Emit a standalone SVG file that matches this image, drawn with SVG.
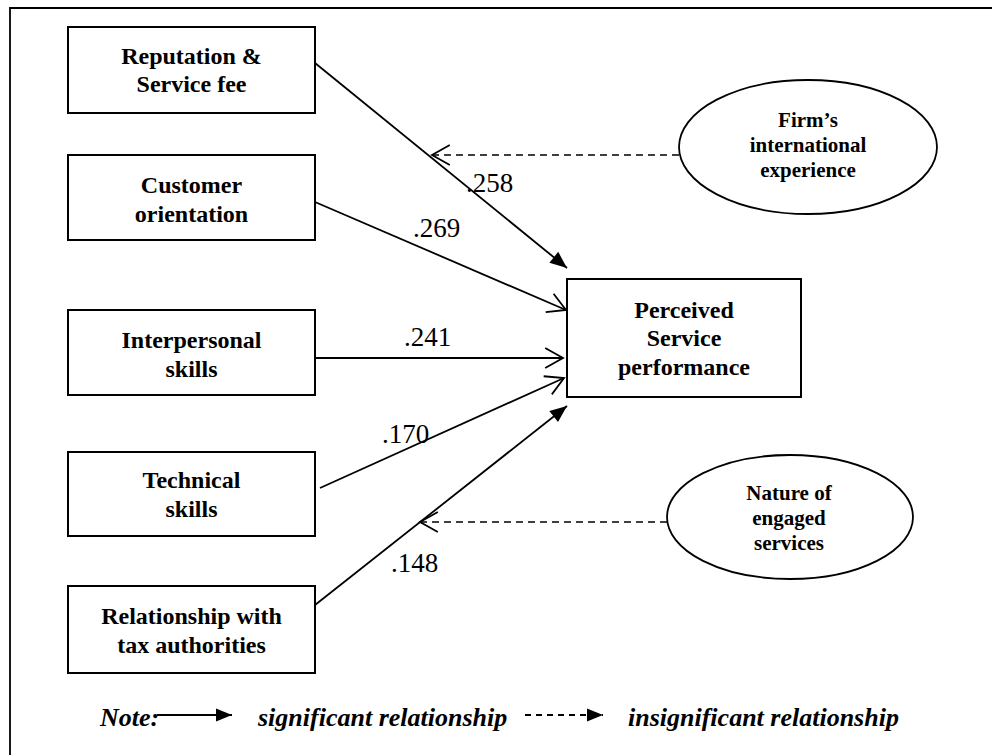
<svg xmlns="http://www.w3.org/2000/svg" width="992" height="755" viewBox="0 0 992 755">
<style>
.box{fill:#fff;stroke:#000;stroke-width:2}
.ell{fill:#fff;stroke:#000;stroke-width:1.8}
.lbl{font-family:"Liberation Serif","Times New Roman",serif;font-weight:bold;font-size:24px;text-anchor:middle;fill:#000}
.elbl{font-family:"Liberation Serif","Times New Roman",serif;font-weight:bold;font-size:21px;text-anchor:middle;fill:#000}
.coef{font-family:"Liberation Serif","Times New Roman",serif;font-size:27px;fill:#000}
.note{font-family:"Liberation Serif","Times New Roman",serif;font-weight:bold;font-style:italic;font-size:26px;fill:#000}
.ln{stroke:#000;stroke-width:1.8;fill:none}
.dash{stroke:#000;stroke-width:1.5;fill:none;stroke-dasharray:7,5}
</style>
<defs>
<marker id="fill" markerUnits="userSpaceOnUse" markerWidth="20" markerHeight="20" viewBox="-18 -9 20 18" refX="0" refY="0" orient="auto">
<path d="M-17,-7 L0,0 L-17,7 Z" fill="#000"/>
</marker>
<marker id="open" markerUnits="userSpaceOnUse" markerWidth="22" markerHeight="24" viewBox="-19 -11 21 22" refX="0" refY="0" orient="auto">
<path d="M-17,-9.5 L0,0 L-17,9.5" fill="none" stroke="#000" stroke-width="1.7"/>
</marker>
<marker id="lfill" markerUnits="userSpaceOnUse" markerWidth="20" markerHeight="20" viewBox="-18 -9 20 18" refX="0" refY="0" orient="auto">
<path d="M-16,-6.5 L0,0 L-16,6.5 Z" fill="#000"/>
</marker>
</defs>
<rect x="0" y="0" width="992" height="755" fill="#fff"/>
<path d="M10,755 L10,8 L992,8" fill="none" stroke="#000" stroke-width="1.8"/>

<g id="connectors">
<line class="ln" x1="315" y1="63" x2="567" y2="268" marker-end="url(#fill)"/>
<line class="ln" x1="315" y1="202" x2="566" y2="310" marker-end="url(#open)"/>
<line class="ln" x1="315" y1="358" x2="563" y2="358" marker-end="url(#open)"/>
<line class="ln" x1="320" y1="488" x2="564" y2="378" marker-end="url(#open)"/>
<line class="ln" x1="315" y1="605" x2="567" y2="406" marker-end="url(#fill)"/>
<line class="dash" x1="679" y1="155" x2="432" y2="155" marker-end="url(#open)"/>
<line class="dash" x1="667" y1="522" x2="420" y2="522" marker-end="url(#open)"/>
<text class="coef" x="466" y="192">.258</text>
<text class="coef" x="413" y="237">.269</text>
<text class="coef" x="404" y="346">.241</text>
<text class="coef" x="382" y="443">.170</text>
<text class="coef" x="391" y="572">.148</text>
</g>

<g id="n-reputation">
<rect class="box" x="68" y="27" width="247" height="86"/>
<text class="lbl" x="191.5" y="64">Reputation &amp;</text>
<text class="lbl" x="191.5" y="92">Service fee</text>
</g>
<g id="n-customer">
<rect class="box" x="68" y="155" width="247" height="85"/>
<text class="lbl" x="191.5" y="193">Customer</text>
<text class="lbl" x="191.5" y="222">orientation</text>
</g>
<g id="n-interpersonal">
<rect class="box" x="68" y="310" width="247" height="85"/>
<text class="lbl" x="191.5" y="348">Interpersonal</text>
<text class="lbl" x="191.5" y="377">skills</text>
</g>
<g id="n-technical">
<rect class="box" x="68" y="452" width="247" height="84"/>
<text class="lbl" x="191.5" y="488">Technical</text>
<text class="lbl" x="191.5" y="517">skills</text>
</g>
<g id="n-relationship">
<rect class="box" x="68" y="586" width="247" height="87"/>
<text class="lbl" x="191.5" y="624">Relationship with</text>
<text class="lbl" x="191.5" y="653">tax authorities</text>
</g>
<g id="n-perceived">
<rect class="box" x="567" y="279" width="234" height="118"/>
<text class="lbl" x="684" y="318">Perceived</text>
<text class="lbl" x="684" y="346">Service</text>
<text class="lbl" x="684" y="375">performance</text>
</g>
<g id="n-firm">
<ellipse class="ell" cx="808" cy="147" rx="129" ry="67"/>
<text class="elbl" x="808" y="127">Firm’s</text>
<text class="elbl" x="808" y="152">international</text>
<text class="elbl" x="808" y="177">experience</text>
</g>
<g id="n-nature">
<ellipse class="ell" cx="790" cy="517" rx="123" ry="62"/>
<text class="elbl" x="789" y="500">Nature of</text>
<text class="elbl" x="789" y="525">engaged</text>
<text class="elbl" x="789" y="550">services</text>
</g>

<g id="legend">
<text class="note" x="100" y="726">Note:</text>
<line class="ln" x1="157" y1="715" x2="232" y2="715" marker-end="url(#lfill)"/>
<text class="note" x="258" y="726">significant relationship</text>
<line class="ln" x1="525" y1="715" x2="603" y2="715" stroke-dasharray="6,5" marker-end="url(#lfill)"/>
<text class="note" x="628" y="726">insignificant relationship</text>
</g>
</svg>
